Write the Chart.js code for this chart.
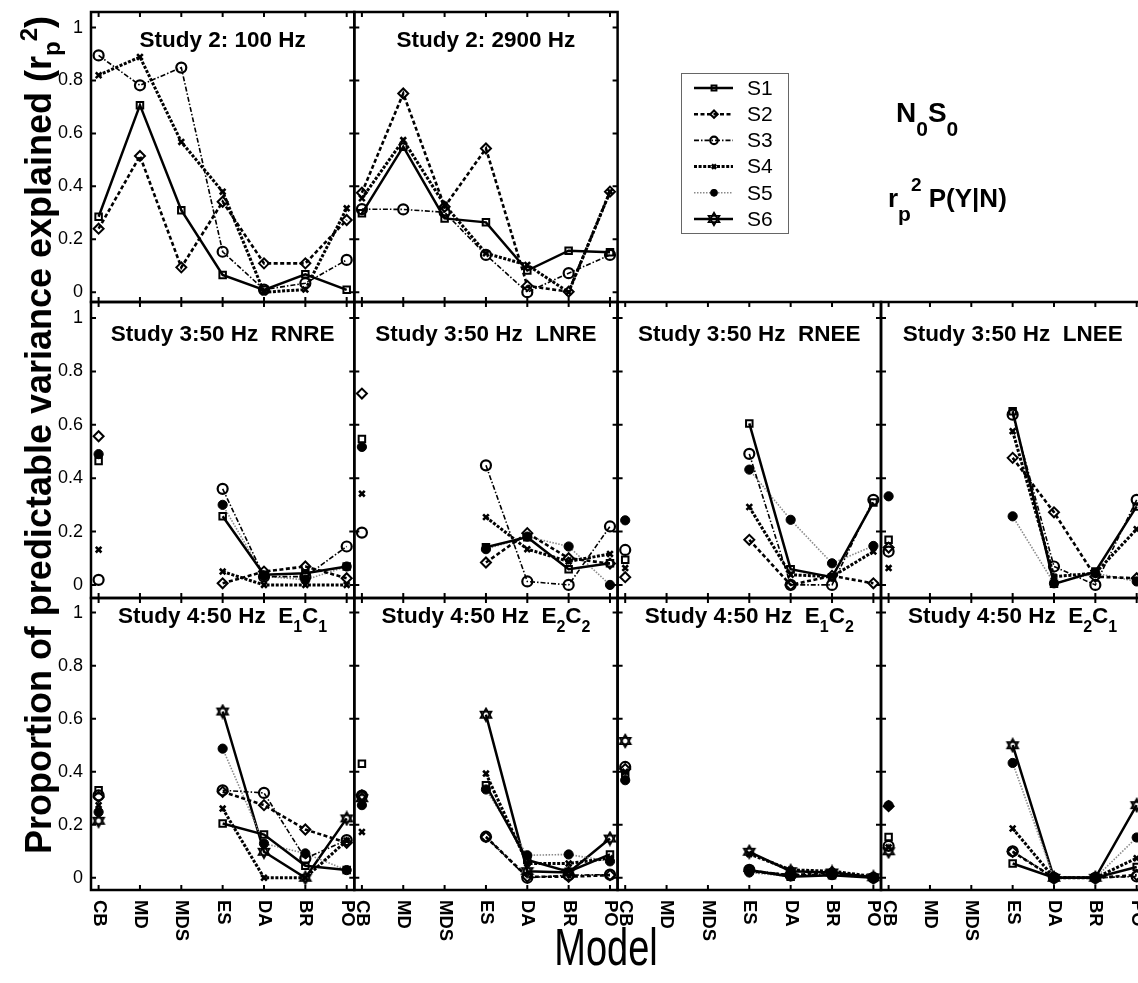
<!DOCTYPE html>
<html>
<head>
<meta charset="utf-8">
<script src="https://cdn.jsdelivr.net/npm/chart.js@4.4.1/dist/chart.umd.min.js"></script>
<style>
  html, body { margin: 0; padding: 0; background: #fff; overflow: hidden; }
  #fig { position: relative; width: 1138px; height: 983px; overflow: hidden; background: #fff; }
  #fig canvas { position: absolute; left: 0; top: 0; }
</style>
</head>
<body>
<div id="fig"></div>
<script>
// ---- data ----
const models = ['CB', 'MD', 'MDS', 'ES', 'DA', 'BR', 'PO'];
const yTicks = [0, 0.2, 0.4, 0.6, 0.8, 1];
const yTickLabels = ['0', '0.2', '0.4', '0.6', '0.8', '1'];
const subjects = ['S1', 'S2', 'S3', 'S4', 'S5', 'S6'];
const N = null;

// one row per subject, one column per model
const study2_100Hz = [
  [0.285, 0.707, 0.31, 0.065, 0.009, 0.068, 0.009],
  [0.24, 0.515, 0.094, 0.342, 0.109, 0.109, 0.273],
  [0.895, 0.782, 0.849, 0.153, 0.01, 0.034, 0.122],
  [0.82, 0.889, 0.568, 0.38, 0.0, 0.01, 0.317]
];
const study2_2900Hz = [
  [0.298, 0.55, 0.279, 0.264, 0.082, 0.157, 0.151],
  [0.376, 0.751, 0.323, 0.543, 0.024, 0.002, 0.38],
  [0.314, 0.313, 0.302, 0.141, 0.0, 0.072, 0.141],
  [0.355, 0.575, 0.33, 0.147, 0.103, 0.0, 0.38]
];
const study3_RNRE = [
  [0.464, N, N, 0.257, 0.038, 0.044, 0.069],
  [0.557, N, N, 0.006, 0.05, 0.069, 0.025],
  [0.019, N, N, 0.36, 0.031, 0.031, 0.144],
  [0.132, N, N, 0.05, 0.0, 0.0, 0.0],
  [0.49, N, N, 0.30, 0.033, 0.019, 0.069]
];
const study3_LNRE = [
  [0.547, N, N, 0.141, 0.179, 0.059, 0.081],
  [0.717, N, N, 0.084, 0.194, 0.10, 0.08],
  [0.196, N, N, 0.448, 0.013, 0.0, 0.219],
  [0.342, N, N, 0.254, 0.134, 0.088, 0.116],
  [0.517, N, N, 0.134, 0.181, 0.144, 0.0]
];
const study3_RNEE = [
  [0.094, N, N, 0.605, 0.059, 0.029, 0.309],
  [0.029, N, N, 0.169, 0.0, 0.034, 0.006],
  [0.131, N, N, 0.491, 0.0, 0.0, 0.319],
  [0.063, N, N, 0.292, 0.038, 0.031, 0.125],
  [0.242, N, N, 0.432, 0.244, 0.081, 0.146]
];
const study3_LNEE = [
  [0.169, N, N, 0.651, 0.004, 0.05, 0.294],
  [0.14, N, N, 0.476, 0.272, 0.031, 0.025],
  [0.125, N, N, 0.638, 0.069, 0.0, 0.319],
  [0.063, N, N, 0.576, 0.031, 0.044, 0.209],
  [0.332, N, N, 0.257, 0.006, 0.044, 0.013]
];
const study4_E1C1 = [
  [0.33, N, N, 0.205, 0.163, 0.045, 0.029],
  [0.305, N, N, 0.324, 0.274, 0.182, 0.132],
  [0.311, N, N, 0.33, 0.32, 0.073, 0.142],
  [0.274, N, N, 0.261, 0.0, 0.0, 0.14],
  [0.248, N, N, 0.487, 0.129, 0.092, 0.029],
  [0.215, N, N, 0.627, 0.098, 0.0, 0.224]
];
const study4_E2C2 = [
  [0.43, N, N, 0.349, 0.067, 0.023, 0.088],
  [0.311, N, N, 0.154, 0.004, 0.004, 0.01],
  [0.31, N, N, 0.155, 0.0, 0.01, 0.012],
  [0.173, N, N, 0.393, 0.054, 0.054, 0.074],
  [0.274, N, N, 0.333, 0.085, 0.088, 0.062],
  [0.30, N, N, 0.615, 0.025, 0.02, 0.148]
];
const study4_E1C2 = [
  [0.386, N, N, 0.029, 0.004, 0.01, 0.0],
  [0.41, N, N, 0.025, 0.01, 0.02, 0.0],
  [0.418, N, N, 0.03, 0.01, 0.015, 0.0],
  [0.40, N, N, 0.09, 0.03, 0.025, 0.005],
  [0.368, N, N, 0.02, 0.005, 0.01, 0.0],
  [0.516, N, N, 0.098, 0.025, 0.02, 0.002]
];
const study4_E2C1 = [
  [0.154, N, N, 0.054, 0.0, 0.0, 0.041],
  [0.27, N, N, 0.098, 0.0, 0.0, 0.01],
  [0.12, N, N, 0.10, 0.0, 0.0, 0.005],
  [0.115, N, N, 0.186, 0.0, 0.0, 0.074],
  [0.273, N, N, 0.433, 0.0, 0.0, 0.152],
  [0.10, N, N, 0.50, 0.0, 0.0, 0.274]
];

// ---- layout ----
const W = 1160, H = 983;
const FONT = '"Liberation Sans", Arial, Helvetica, sans-serif';
const cols = [91, 354.3, 617.6, 881, 1144.3];
const rows = [
  { top: 12, bottom: 302, min: -0.037, max: 1.059, titleY: 47 },
  { top: 302, bottom: 598, min: -0.049, max: 1.06, titleY: 341 },
  { top: 598, bottom: 890, min: -0.046, max: 1.055, titleY: 623 }
];

// 6-point star marker for S6
const hexagram = (() => {
  const c = document.createElement('canvas');
  c.width = c.height = 16;
  const g = c.getContext('2d');
  g.strokeStyle = '#000';
  g.lineWidth = 1.8;
  const r = 6.2;
  [-Math.PI / 2, Math.PI / 2].forEach(off => {
    g.beginPath();
    for (let k = 0; k < 3; k++) {
      const a = off + k * 2 * Math.PI / 3;
      const px = 8 + r * Math.cos(a), py = 8 + r * Math.sin(a);
      if (k) g.lineTo(px, py); else g.moveTo(px, py);
    }
    g.closePath();
    g.stroke();
  });
  return c;
})();

const seriesStyle = [
  { borderColor: '#000', borderWidth: 2.5, borderDash: [], pointStyle: 'rect', pointRadius: 4.6, pointBorderWidth: 2, pointBorderColor: '#000', pointBackgroundColor: 'rgba(0,0,0,0)' },
  { borderColor: '#000', borderWidth: 2.6, borderDash: [4, 2.5], pointStyle: 'rectRot', pointRadius: 5, pointBorderWidth: 2, pointBorderColor: '#000', pointBackgroundColor: 'rgba(0,0,0,0)' },
  { borderColor: '#000', borderWidth: 1.6, borderDash: [5, 2, 1.5, 2], pointStyle: 'circle', pointRadius: 5, pointBorderWidth: 2.2, pointBorderColor: '#000', pointBackgroundColor: 'rgba(0,0,0,0)' },
  { borderColor: '#000', borderWidth: 3, borderDash: [3, 1.6], pointStyle: 'crossRot', pointRadius: 4, pointBorderWidth: 2.6, pointBorderColor: '#000', pointBackgroundColor: 'rgba(0,0,0,0)' },
  { borderColor: '#8a8a8a', borderWidth: 1.6, borderDash: [1.5, 1.5], pointStyle: 'circle', pointRadius: 4.6, pointBorderWidth: 1, pointBorderColor: '#000', pointBackgroundColor: '#000' },
  { borderColor: '#000', borderWidth: 2.5, borderDash: [], pointStyle: hexagram, pointRadius: 6, pointBorderWidth: 1, pointBorderColor: '#000', pointBackgroundColor: 'rgba(0,0,0,0)' }
];

const panels = [
  { data: study2_100Hz, col: 0, row: 0, title: [{ t: 'Study 2: 100 Hz' }] },
  { data: study2_2900Hz, col: 1, row: 0, title: [{ t: 'Study 2: 2900 Hz' }] },
  { data: study3_RNRE, col: 0, row: 1, title: [{ t: 'Study 3:50 Hz  RNRE' }] },
  { data: study3_LNRE, col: 1, row: 1, title: [{ t: 'Study 3:50 Hz  LNRE' }] },
  { data: study3_RNEE, col: 2, row: 1, title: [{ t: 'Study 3:50 Hz  RNEE' }] },
  { data: study3_LNEE, col: 3, row: 1, title: [{ t: 'Study 3:50 Hz  LNEE' }] },
  { data: study4_E1C1, col: 0, row: 2, title: [{ t: 'Study 4:50 Hz  E' }, { t: '1', sub: true }, { t: 'C' }, { t: '1', sub: true }] },
  { data: study4_E2C2, col: 1, row: 2, title: [{ t: 'Study 4:50 Hz  E' }, { t: '2', sub: true }, { t: 'C' }, { t: '2', sub: true }] },
  { data: study4_E1C2, col: 2, row: 2, title: [{ t: 'Study 4:50 Hz  E' }, { t: '1', sub: true }, { t: 'C' }, { t: '2', sub: true }] },
  { data: study4_E2C1, col: 3, row: 2, title: [{ t: 'Study 4:50 Hz  E' }, { t: '2', sub: true }, { t: 'C' }, { t: '1', sub: true }] }
];

// text made of runs with their own size and vertical shift
function drawRuns(ctx, runs, x, y, align) {
  const fontOf = r => `${r.bold === false ? '' : 'bold '}${r.size}px ${FONT}`;
  let w = 0;
  runs.forEach(r => { ctx.font = fontOf(r); w += ctx.measureText(r.t).width; });
  let cx = align === 'center' ? x - w / 2 : x;
  ctx.textAlign = 'left';
  runs.forEach(r => {
    ctx.font = fontOf(r);
    ctx.fillText(r.t, cx, y + (r.dy || 0));
    cx += ctx.measureText(r.t).width;
  });
}

const panelFrame = {
  id: 'panelFrame',
  afterDraw(chart, args, opts) {
    const { ctx, chartArea: a, scales: { x, y } } = chart;
    ctx.save();
    ctx.strokeStyle = '#000';
    ctx.fillStyle = '#000';
    ctx.lineWidth = 2.5;
    ctx.setLineDash([]);
    ctx.strokeRect(a.left, a.top, a.right - a.left, a.bottom - a.top);

    // inward ticks on all four sides
    const tl = 5;
    ctx.lineWidth = 2;
    ctx.beginPath();
    models.forEach((m, i) => {
      const px = x.getPixelForValue(i);
      ctx.moveTo(px, a.top); ctx.lineTo(px, a.top + tl);
      ctx.moveTo(px, a.bottom); ctx.lineTo(px, a.bottom - tl);
    });
    yTicks.forEach(v => {
      const py = y.getPixelForValue(v);
      ctx.moveTo(a.left, py); ctx.lineTo(a.left + tl, py);
      ctx.moveTo(a.right, py); ctx.lineTo(a.right - tl, py);
    });
    ctx.stroke();

    if (opts.yLabels) {
      ctx.font = `18px ${FONT}`;
      ctx.textAlign = 'right';
      ctx.textBaseline = 'middle';
      yTicks.forEach((v, i) => ctx.fillText(yTickLabels[i], a.left - 8, y.getPixelForValue(v)));
    }
    if (opts.xLabels) {
      ctx.font = `bold 18.5px ${FONT}`;
      ctx.textAlign = 'left';
      ctx.textBaseline = 'middle';
      models.forEach((m, i) => {
        ctx.save();
        ctx.translate(x.getPixelForValue(i), a.bottom + 10);
        ctx.rotate(Math.PI / 2);
        ctx.fillText(m, 0, 0);
        ctx.restore();
      });
    }

    // panel title
    ctx.textBaseline = 'alphabetic';
    const runs = opts.title.map(r => r.sub ? { t: r.t, size: 16, dy: 9 } : { t: r.t, size: 22.5 });
    drawRuns(ctx, runs, (a.left + a.right) / 2, opts.titleY, 'center');
    ctx.restore();
  }
};

// axis titles, legend and condition labels, drawn once
const figureText = {
  id: 'figureText',
  afterDraw(chart) {
    const ctx = chart.ctx;
    ctx.save();
    ctx.fillStyle = '#000';
    ctx.textBaseline = 'alphabetic';

    ctx.save();
    ctx.translate(51, 435);
    ctx.rotate(-Math.PI / 2);
    drawRuns(ctx, [
      { t: 'Proportion of predictable variance explained (r', size: 36 },
      { t: 'p', size: 24, dy: 9 },
      { t: '2', size: 24, dy: -14 },
      { t: ')', size: 36 }
    ], 0, 0, 'center');
    ctx.restore();

    // tall axis title
    ctx.save();
    ctx.translate(606, 965);
    ctx.scale(1, 1.35);
    drawRuns(ctx, [{ t: 'Model', size: 38, bold: false }], 0, 0, 'center');
    ctx.restore();

    // legend
    const lx = 681.5, ly = 73.5, lw = 107, lh = 160;
    ctx.strokeStyle = '#666';
    ctx.lineWidth = 1;
    ctx.strokeRect(lx, ly, lw, lh);
    subjects.forEach((s, i) => {
      const st = seriesStyle[i];
      const yy = 88 + i * 26.2;
      ctx.save();
      ctx.strokeStyle = st.borderColor;
      ctx.lineWidth = st.borderWidth;
      ctx.setLineDash(st.borderDash);
      ctx.beginPath();
      ctx.moveTo(694, yy); ctx.lineTo(733, yy);
      ctx.stroke();
      ctx.setLineDash([]);
      ctx.strokeStyle = st.pointBorderColor;
      ctx.fillStyle = st.pointBackgroundColor;
      ctx.lineWidth = st.pointBorderWidth;
      Chart.helpers.drawPoint(ctx, { pointStyle: st.pointStyle, radius: st.pointRadius * 0.75, borderWidth: st.pointBorderWidth, rotation: 0 }, 714, yy);
      ctx.restore();
      ctx.fillStyle = '#000';
      ctx.font = `21px ${FONT}`;
      ctx.textAlign = 'left';
      ctx.textBaseline = 'middle';
      ctx.fillText(s, 747, yy + 1);
    });

    ctx.textBaseline = 'alphabetic';
    drawRuns(ctx, [
      { t: 'N', size: 28 }, { t: '0', size: 21, dy: 14 },
      { t: 'S', size: 28 }, { t: '0', size: 21, dy: 14 }
    ], 896, 122, 'left');
    drawRuns(ctx, [
      { t: 'r', size: 26 }, { t: 'p', size: 21, dy: 14 },
      { t: '2', size: 19, dy: -16 }, { t: ' P(Y|N)', size: 26 }
    ], 888, 207, 'left');
    ctx.restore();
  }
};

const fig = document.getElementById('fig');

panels.forEach((p, idx) => {
  const canvas = document.createElement('canvas');
  canvas.width = W; canvas.height = H;
  canvas.style.width = W + 'px'; canvas.style.height = H + 'px';
  fig.appendChild(canvas);
  const r = rows[p.row];
  const left = cols[p.col], right = cols[p.col + 1];

  new Chart(canvas, {
    type: 'line',
    data: {
      datasets: p.data.map((vals, i) => Object.assign({
        label: subjects[i],
        data: vals.map((v, k) => ({ x: k, y: v })),
        fill: false,
        tension: 0,
        spanGaps: false,
        clip: false
      }, seriesStyle[i]))
    },
    options: {
      responsive: false,
      animation: false,
      devicePixelRatio: 1,
      layout: { padding: { left: left, right: W - right, top: r.top, bottom: H - r.bottom } },
      scales: {
        x: { type: 'linear', display: false, min: -0.184, max: 6.184 },
        y: { type: 'linear', display: false, min: r.min, max: r.max }
      },
      plugins: {
        legend: { display: false },
        tooltip: { enabled: false },
        panelFrame: {
          title: p.title,
          titleY: r.titleY,
          yLabels: p.col === 0,
          xLabels: p.row === 2
        }
      }
    },
    plugins: idx === 0 ? [panelFrame, figureText] : [panelFrame]
  });
});
</script>
</body>
</html>
